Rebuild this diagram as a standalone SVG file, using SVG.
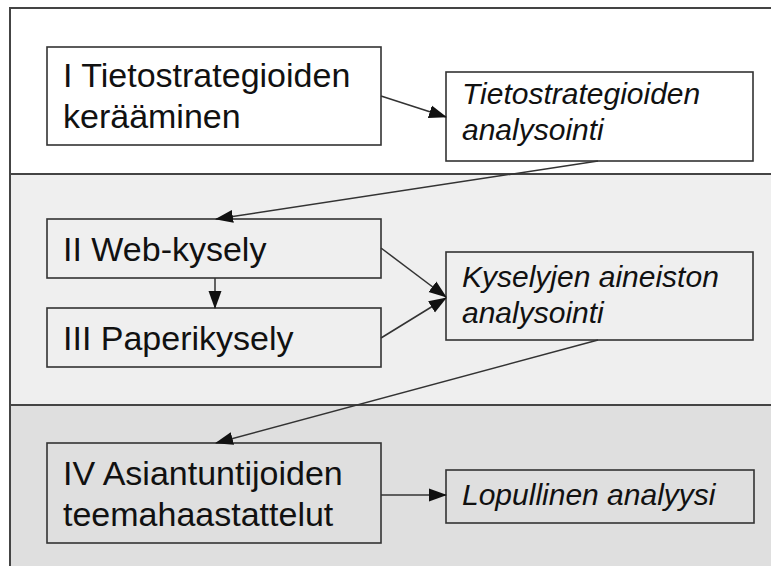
<svg xmlns="http://www.w3.org/2000/svg" width="771" height="566" viewBox="0 0 771 566">
  <defs>
    <marker id="arrow" markerWidth="18" markerHeight="14" refX="17" refY="7" orient="auto" markerUnits="userSpaceOnUse">
      <path d="M0,0.5 L18,7 L0,13.5 Z" fill="#111"/>
    </marker>
    <style>
      .box { stroke: #333; stroke-width: 1.6; }
      .reg { font-family: "Liberation Sans", Arial, sans-serif; font-size: 34px; fill: #111; }
      .ital { font-family: "Liberation Sans", Arial, sans-serif; font-size: 30px; font-style: italic; fill: #111; }
      .conn { stroke: #333; stroke-width: 1.5; fill: none; marker-end: url(#arrow); }
      .frame { stroke: #444; stroke-width: 2; fill: none; }
    </style>
  </defs>

  <!-- background bands -->
  <rect x="0" y="0" width="771" height="566" fill="#ffffff"/>
  <rect x="10" y="174" width="761" height="231" fill="#efefef"/>
  <rect x="10" y="405" width="761" height="161" fill="#dfdfdf"/>
  <g id="frame">
    <path class="frame" d="M10,566 L10,8 L771,8"/>
    <line class="frame" x1="10" y1="174" x2="771" y2="174"/>
    <line class="frame" x1="10" y1="405" x2="771" y2="405"/>
  </g>

  <!-- phase I -->
  <g id="n-keraaminen">
    <rect class="box" x="47" y="47" width="334" height="98" fill="#ffffff"/>
    <text class="reg" x="63" y="87">I Tietostrategioiden</text>
    <text class="reg" x="63" y="128">kerääminen</text>
  </g>
  <g id="n-tietoanalyysi">
    <rect class="box" x="446" y="72" width="307" height="89" fill="#ffffff"/>
    <text class="ital" x="462" y="104">Tietostrategioiden</text>
    <text class="ital" x="462" y="140">analysointi</text>
  </g>

  <!-- phases II and III -->
  <g id="n-web">
    <rect class="box" x="47" y="219" width="334" height="59" fill="#efefef"/>
    <text class="reg" x="63" y="261">II Web-kysely</text>
  </g>
  <g id="n-paperi">
    <rect class="box" x="47" y="308" width="334" height="59" fill="#efefef"/>
    <text class="reg" x="63" y="350">III Paperikysely</text>
  </g>
  <g id="n-kyselyanalyysi">
    <rect class="box" x="446" y="252" width="307" height="88" fill="#efefef"/>
    <text class="ital" x="462" y="287">Kyselyjen aineiston</text>
    <text class="ital" x="462" y="323">analysointi</text>
  </g>

  <!-- phase IV -->
  <g id="n-haastattelut">
    <rect class="box" x="47" y="443" width="334" height="100" fill="#dfdfdf"/>
    <text class="reg" x="63" y="485">IV Asiantuntijoiden</text>
    <text class="reg" x="63" y="526">teemahaastattelut</text>
  </g>
  <g id="n-lopullinen">
    <rect class="box" x="446" y="470" width="308" height="53" fill="#dfdfdf"/>
    <text class="ital" x="462" y="505">Lopullinen analyysi</text>
  </g>

  <!-- connectors -->
  <g id="connectors">
    <line class="conn" x1="381" y1="96" x2="446" y2="117"/>
    <line class="conn" x1="598" y1="161" x2="216" y2="219"/>
    <line class="conn" x1="215" y1="278" x2="215" y2="308"/>
    <line class="conn" x1="381" y1="248" x2="446" y2="297"/>
    <line class="conn" x1="381" y1="338" x2="446" y2="298"/>
    <line class="conn" x1="598" y1="340" x2="216" y2="443"/>
    <line class="conn" x1="381" y1="495" x2="446" y2="495"/>
  </g>
</svg>
